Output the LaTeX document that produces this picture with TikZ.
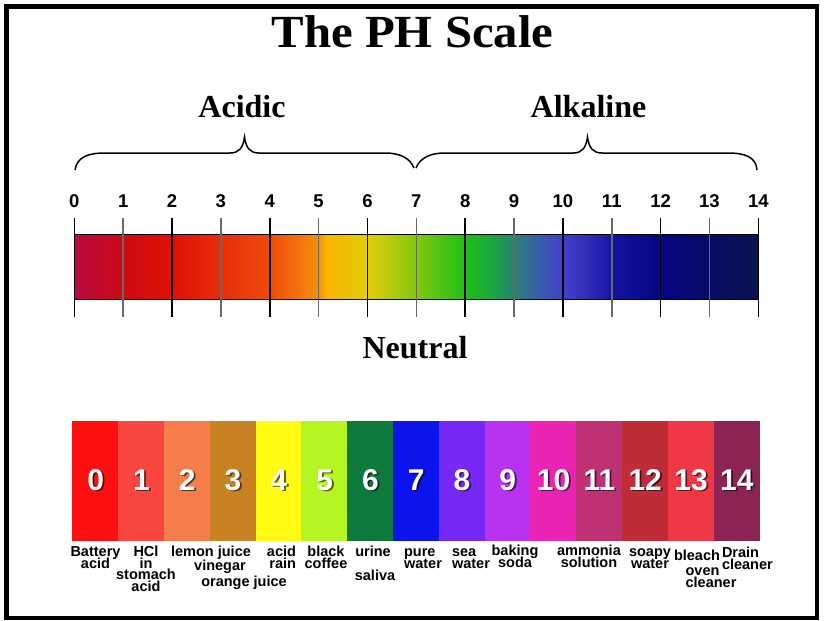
\documentclass[tikz,border=0pt]{standalone}
\usepackage{fontspec}
\setmainfont{Liberation Serif}
\setsansfont{Liberation Sans}
\usetikzlibrary{positioning}
\newcommand{\tightlines}{\lineskiplimit=-100pt\relax}
% colours of the gradient bar
\definecolor{g0}{RGB}{185,10,65}
\definecolor{g1}{RGB}{195,10,45}
\definecolor{g2}{RGB}{205,10,20}
\definecolor{g3}{RGB}{222,18,5}
\definecolor{g4}{RGB}{232,45,10}
\definecolor{g5}{RGB}{238,75,10}
\definecolor{g6}{RGB}{243,115,15}
\definecolor{g7}{RGB}{245,145,5}
\definecolor{g8}{RGB}{250,180,0}
\definecolor{g9}{RGB}{225,205,10}
\definecolor{g10}{RGB}{130,200,15}
\definecolor{g11}{RGB}{30,190,25}
\definecolor{g12}{RGB}{25,170,60}
\definecolor{g13}{RGB}{40,130,115}
\definecolor{g14}{RGB}{55,95,170}
\definecolor{g15}{RGB}{68,62,200}
\definecolor{g16}{RGB}{50,45,185}
\definecolor{g17}{RGB}{20,20,160}
\definecolor{g18}{RGB}{5,5,130}
\definecolor{g19}{RGB}{10,10,100}
\definecolor{g20}{RGB}{10,20,80}
\pgfdeclarehorizontalshading{phbar}{100bp}{color(0bp)=(g0); color(25bp)=(g0); color(26.79bp)=(g1);
  color(28.57bp)=(g2); color(32.14bp)=(g3); color(35.71bp)=(g4); color(39.29bp)=(g5);
  color(41.43bp)=(g6); color(42.86bp)=(g7); color(43.39bp)=(g8); color(46.43bp)=(g9);
  color(50bp)=(g10); color(53.57bp)=(g11); color(55.36bp)=(g12); color(57.14bp)=(g13);
  color(58.93bp)=(g14); color(60.71bp)=(g15); color(62.5bp)=(g16); color(64.29bp)=(g17);
  color(67.86bp)=(g18); color(71.43bp)=(g19); color(75bp)=(g20); color(100bp)=(g20)}
% colours of the boxes
\definecolor{bx0}{RGB}{255,15,15}
\definecolor{bx1}{RGB}{250,70,65}
\definecolor{bx2}{RGB}{245,125,75}
\definecolor{bx3}{RGB}{200,130,35}
\definecolor{bx4}{RGB}{255,250,20}
\definecolor{bx5}{RGB}{180,245,35}
\definecolor{bx6}{RGB}{15,120,60}
\definecolor{bx7}{RGB}{10,20,235}
\definecolor{bx8}{RGB}{120,40,245}
\definecolor{bx9}{RGB}{185,50,240}
\definecolor{bx10}{RGB}{235,35,180}
\definecolor{bx11}{RGB}{190,50,115}
\definecolor{bx12}{RGB}{190,45,55}
\definecolor{bx13}{RGB}{240,55,70}
\definecolor{bx14}{RGB}{140,35,85}
\definecolor{tickgray}{RGB}{105,105,105}
\tikzset{
  titletext/.style={font=\bfseries\fontsize{46}{50}\selectfont, anchor=base},
  zonetext/.style={font=\bfseries\fontsize{32}{34}\selectfont, anchor=base},
  scalenum/.style={font=\sffamily\bfseries\fontsize{18.5}{20}\selectfont, anchor=base},
  bracestyle/.style={line width=1.5pt},
  tickmark/.style={line width=1.6pt},
  phbox/.style={draw=none, outer sep=0pt, minimum width=46.3pt, minimum height=120pt},
  boxnum/.style={font=\sffamily\bfseries\fontsize{30}{32}\selectfont, text=white, anchor=base},
  boxshadow/.style={boxnum, text=black, opacity=0.6},
  itemtext/.style={font=\sffamily\bfseries\fontsize{14.5}{11.7}\selectfont\tightlines, anchor=base, align=center}
}

\begin{document}
\begin{tikzpicture}[x=1pt,y=-1pt,every node/.style={inner sep=0pt}]
\useasboundingbox (0,0) rectangle (825,621);
\fill[white] (0,0) rectangle (825,621);
\draw[line width=4.5pt] (6.25,6.25) rectangle (817,617.75);

\node[titletext] (title) at (412.5,47.7) {\scalebox{1.06}[1]{The PH Scale}};

%braces over the two halves
\draw[bracestyle] (75,170) .. controls (77,157) and (88,153) .. (105,153) -- (230,153)
  .. controls (239,153) and (243,148) .. (244.5,137) .. controls (246,148) and (250,153) .. (259,153)
  -- (385,153) .. controls (400,153) and (410,158) .. (414,168);
\draw[bracestyle] (416,168) .. controls (420,158) and (430,153) .. (445,153) -- (573,153)
  .. controls (582,153) and (586,148) .. (587.5,137) .. controls (589,148) and (593,153) .. (602,153)
  -- (728,153) .. controls (745,153) and (756,157) .. (757,170);
\node[zonetext] (acidic) at (242,117.3) {Acidic};
\node[zonetext] (alkaline) at (588.5,117.3) {Alkaline};

%gradient bar with scale
\shade[shading=phbar, draw=black, line width=0.8pt] (74.3,234) rectangle (758.3,299);
\foreach \i in {0,...,14}{
  \pgfmathsetmacro\tx{74.3+48.86*\i}
  \coordinate (top\i) at (\tx,218);
  \coordinate (bot\i) at (\tx,317);
  \node[scalenum] (n\i) at (\tx,207) {\i};
}
%even ticks black, odd ticks gray
\foreach \i in {0,2,...,14} \draw[tickmark] (top\i) -- (bot\i);
\foreach \i in {1,3,...,13} \draw[tickmark, tickgray] (top\i) -- (bot\i);

\node[zonetext] (neutral) at (415,358.3) {Neutral};

%coloured boxes
\foreach \i in {0,...,14}{
  \pgfmathsetmacro\bx{72.7+45.8*\i+22.9}
  \node[phbox, fill=bx\i] (b\i) at (\bx,481) {};
  \node[boxshadow] (s\i) at (\bx+1.8,491.8) {\i};
  \node[boxnum] (d\i) at (\bx,490) {\i};
}

%what has that pH (y is the baseline of the last line)
\node[itemtext] (l0) at (95.5,568.2) {Battery\\acid};
\node[itemtext] (l1) at (146,591.6) {HCl\\in\\stomach\\acid};
\node[itemtext] (l2a) at (211,556.5) {lemon juice};
\node[itemtext] (l2b) at (220,570.5) {vinegar};
\node[itemtext] (l3) at (244,586.5) {orange juice};
\node[itemtext, align=right] (l4) at (281.5,568.2) {acid\\rain};
\node[itemtext] (l5) at (326,568.2) {black\\coffee};
\node[itemtext] (l6a) at (373,556.5) {urine};
\node[itemtext] (l6b) at (375,580) {saliva};
\node[itemtext, align=left] (l7) at (423,568.2) {pure\\water};
\node[itemtext, align=left] (l8) at (471,568.2) {sea\\water};
\node[itemtext] (l9) at (515,567.5) {baking\\soda};
\node[itemtext] (l10) at (589,567.2) {ammonia\\solution};
\node[itemtext] (l11) at (650,568.2) {soapy\\water};
\node[itemtext] (l12a) at (697,560.7) {bleach};
\node[itemtext, align=left] (l12b) at (711,587.5) {oven\\cleaner};
\node[itemtext, align=left] (l13) at (747.4,569) {Drain\\cleaner};
\end{tikzpicture}
\end{document}
